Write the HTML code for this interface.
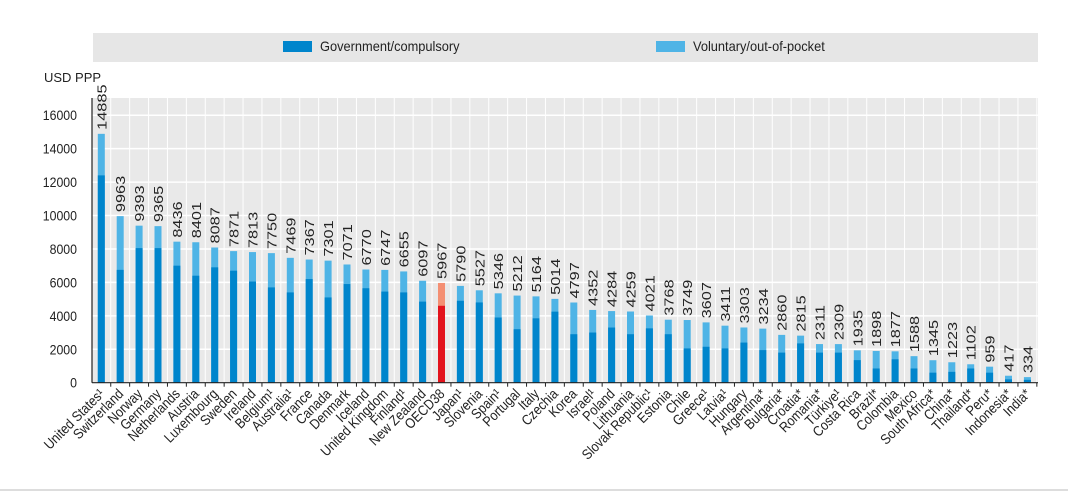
<!DOCTYPE html><html><head><meta charset="utf-8"><style>body{margin:0;background:#fff}svg{display:block;font-family:"Liberation Sans",sans-serif}</style></head><body>
<svg id="s" width="1068" height="492" xmlns="http://www.w3.org/2000/svg"></svg>
<script>
const d=[["United States¹",14885,12400],["Switzerland",9963,6750],["Norway",9393,8050],["Germany",9365,8050],["Netherlands",8436,7000],["Austria",8401,6400],["Luxembourg",8087,6900],["Sweden",7871,6700],["Ireland",7813,6050],["Belgium¹",7750,5700],["Australia¹",7469,5400],["France",7367,6200],["Canada",7301,5100],["Denmark",7071,5900],["Iceland",6770,5650],["United Kingdom",6747,5450],["Finland¹",6655,5400],["New Zealand",6097,4850],["OECD38",5967,4600],["Japan¹",5790,4900],["Slovenia",5527,4800],["Spain¹",5346,3900],["Portugal",5212,3200],["Italy",5164,3850],["Czechia",5014,4250],["Korea",4797,2900],["Israel¹",4352,3000],["Poland",4284,3300],["Lithuania",4259,2900],["Slovak Republic¹",4021,3250],["Estonia",3768,2900],["Chile",3749,2050],["Greece¹",3607,2150],["Latvia¹",3411,2050],["Hungary",3303,2400],["Argentina*",3234,1950],["Bulgaria*",2860,1800],["Croatia*",2815,2350],["Romania*",2311,1800],["Türkiye¹",2309,1800],["Costa Rica",1935,1350],["Brazil*",1898,850],["Colombia",1877,1400],["Mexico",1588,850],["South Africa*",1345,600],["China*",1223,650],["Thailand*",1102,850],["Peru*",959,600],["Indonesia*",417,200],["India*",334,170]];
const y0=382.7,k=267.5/16000,X0=92,X1=1038,sp=18.9,c0=101.3;
let h='';
h+='<rect x="93" y="33" width="945" height="29" fill="#e6e6e6"/>';
h+='<rect x="283" y="41" width="29" height="11" fill="#0085cc"/><text x="320" y="51" font-size="13.5" fill="#222" transform="translate(320,0) scale(0.95,1) translate(-320,0)">Government/compulsory</text>';
h+='<rect x="656" y="41" width="29" height="11" fill="#4fb4e6"/><text x="693" y="51" font-size="13.5" fill="#222" transform="translate(693,0) scale(0.95,1) translate(-693,0)">Voluntary/out-of-pocket</text>';
h+='<text x="44" y="82" font-size="13" fill="#222">USD PPP</text>';
h+=`<rect x="${X0}" y="98" width="${X1-X0}" height="${y0-98}" fill="#e9e9e9"/>`;
for(let i=0;i<=d.length;i++){let x=c0-sp/2+i*sp;h+=`<line x1="${x}" y1="98" x2="${x}" y2="${y0}" stroke="#fff" stroke-width="1"/>`;}
for(let v=0;v<=16000;v+=2000){let y=y0-v*k;h+=`<line x1="${X0}" y1="${y}" x2="${X1}" y2="${y}" stroke="#fff" stroke-width="1.5"/><text transform="translate(77,${y+5}) scale(0.88,1)" font-size="14" text-anchor="end" fill="#222">${v}</text>`;}
d.forEach((r,i)=>{let c=c0+i*sp,o=r[0]=="OECD38";let yt=y0-r[1]*k,yg=y0-r[2]*k;
h+=`<rect x="${c-3.5}" y="${yt}" width="7" height="${y0-yt}" fill="${o?'#f48f73':'#4fb4e6'}"/><rect x="${c-3.5}" y="${yg}" width="7" height="${y0-yg}" fill="${o?'#e3131c':'#0085cc'}"/>`;
h+=`<text transform="translate(${c+5},${yt-4}) rotate(-90) scale(1.02,0.8)" font-size="16" fill="#222">${r[1]}</text>`;
h+=`<line x1="${c+sp/2}" y1="${y0}" x2="${c+sp/2}" y2="${y0+4}" stroke="#222"/>`;
h+=`<text transform="translate(${c+4},${y0+12}) rotate(-45) scale(0.92,1.05)" font-size="13.5" text-anchor="end" fill="#222">${r[0]}</text>`;});
h+=`<line x1="${X0}" y1="${y0}" x2="${X1}" y2="${y0}" stroke="#222" stroke-width="1.2"/><line x1="${X0}" y1="98" x2="${X0}" y2="${y0}" stroke="#222" stroke-width="1.2"/>`;
h+='<line x1="0" y1="490" x2="1068" y2="490" stroke="#ddd" stroke-width="2"/>';
document.getElementById('s').innerHTML=h;
</script></body></html>
